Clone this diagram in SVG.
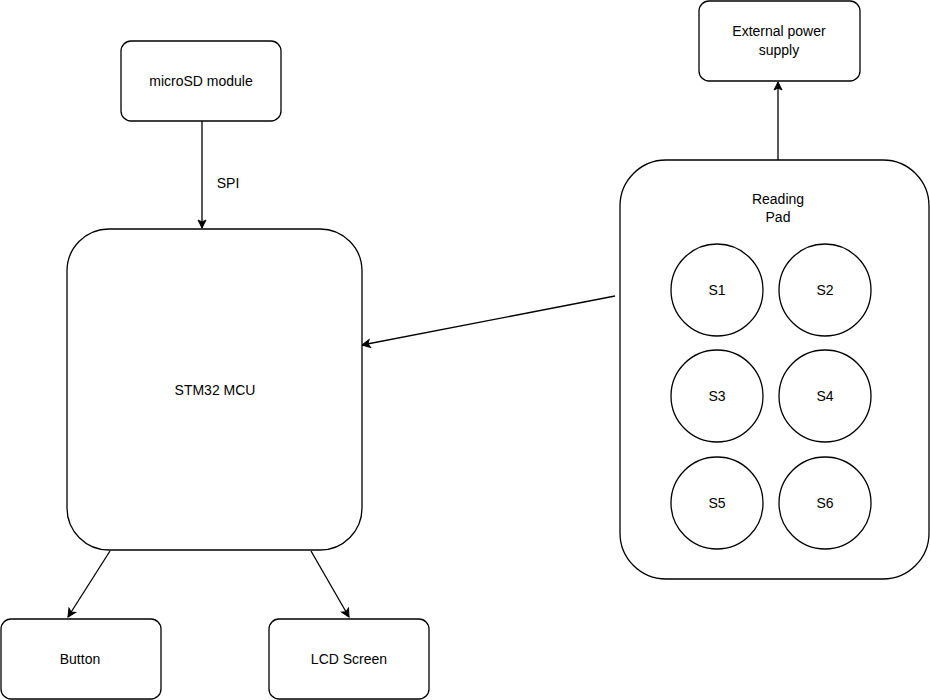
<svg xmlns="http://www.w3.org/2000/svg" width="930" height="700" viewBox="0 0 930 700">
<style>
.n{fill:#fff;stroke:#000;stroke-width:1.3}
.t{font-family:"Liberation Sans",Arial,sans-serif;font-size:14px;text-anchor:middle;dominant-baseline:central;fill:#000}
.c{stroke:#000;stroke-width:1.3;fill:none;marker-end:url(#a)}
</style>
<defs><marker id="a" markerWidth="10" markerHeight="10" refX="9" refY="5" orient="auto" markerUnits="userSpaceOnUse"><path d="M1,1 L9,5 L1,9 L3,5 Z" fill="#000" stroke="#000"/></marker></defs>
<rect width="930" height="700" fill="#fff"/>
<g id="connectors">
<line class="c" x1="202" y1="121" x2="202" y2="228"/>
<line class="c" x1="110" y1="551" x2="68" y2="617"/>
<line class="c" x1="311" y1="551" x2="349" y2="617"/>
<line class="c" x1="778" y1="160" x2="778" y2="82"/>
<line class="c" x1="615" y1="296" x2="362" y2="345"/>
<text class="t" x="228" y="183">SPI</text>
</g>
<g id="microsd"><rect class="n" x="121" y="41" width="160" height="80" rx="10"/><text class="t" x="201" y="81">microSD module</text></g>
<g id="mcu"><rect class="n" x="67" y="229" width="295" height="321" rx="42"/><text class="t" x="215" y="390">STM32 MCU</text></g>
<g id="button"><rect class="n" x="1" y="619" width="160" height="80" rx="10"/><text class="t" x="80" y="659">Button</text></g>
<g id="lcd"><rect class="n" x="269" y="619" width="160" height="80" rx="10"/><text class="t" x="349" y="659">LCD Screen</text></g>
<g id="power"><rect class="n" x="699" y="1" width="161" height="80" rx="10"/><text class="t" x="779" y="31">External power</text><text class="t" x="779" y="50">supply</text></g>
<g id="pad"><rect class="n" x="620" y="160" width="309" height="419" rx="46"/><text class="t" x="778" y="199">Reading</text><text class="t" x="778" y="217">Pad</text></g>
<g id="s1"><circle class="n" cx="717" cy="290" r="46"/><text class="t" x="717" y="290">S1</text></g>
<g id="s2"><circle class="n" cx="825" cy="290" r="46"/><text class="t" x="825" y="290">S2</text></g>
<g id="s3"><circle class="n" cx="717" cy="396" r="46"/><text class="t" x="717" y="396">S3</text></g>
<g id="s4"><circle class="n" cx="825" cy="396" r="46"/><text class="t" x="825" y="396">S4</text></g>
<g id="s5"><circle class="n" cx="717" cy="503" r="46"/><text class="t" x="717" y="503">S5</text></g>
<g id="s6"><circle class="n" cx="825" cy="503" r="46"/><text class="t" x="825" y="503">S6</text></g>
</svg>
